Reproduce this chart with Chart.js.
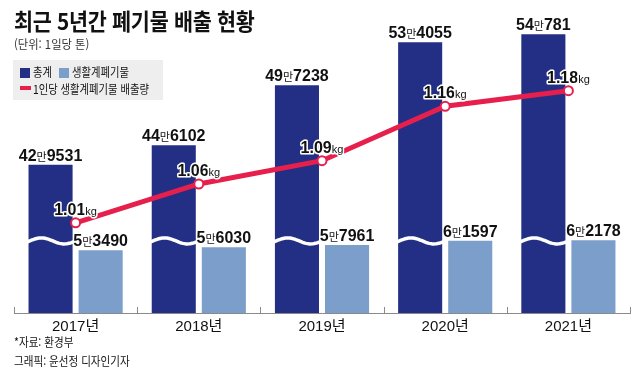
<!DOCTYPE html>
<html lang="ko">
<head>
<meta charset="utf-8">
<script src="https://cdn.jsdelivr.net/npm/chart.js@4.4.1/dist/chart.umd.min.js"></script>
<style>
  body { margin: 0; background: #fff; width: 640px; height: 376px; overflow: hidden; position: relative; }
  canvas { position: absolute; left: 0; top: 0; }
  .txt { position: absolute; white-space: nowrap; font-family: "Noto Sans CJK KR", "Noto Sans", sans-serif; transform-origin: left top; color: #111; }
  #title { left: 14px; top: 3px; font-size: 23px; font-weight: 700; transform: scaleX(0.9); letter-spacing: -0.3px; }
  #unit { left: 14px; top: 35px; font-size: 12px; color: #333; transform: scaleX(0.94); }
  #legend { position: absolute; left: 13px; top: 60px; width: 150px; height: 40px; background: #eeeeee; }
  .lg { position: absolute; font-family: "Noto Sans CJK KR", sans-serif; font-size: 12px; color: #111; white-space: nowrap; transform-origin: left top; transform: scaleX(0.86); }
  .sw { position: absolute; }
  #src { left: 14px; top: 333px; font-size: 12px; transform: scaleX(0.88); }
  #credit { left: 14px; top: 352px; font-size: 12px; transform: scaleX(0.88); }
</style>
</head>
<body>
<canvas id="myChart" width="640" height="376"></canvas>
<div class="txt" id="title">최근 5년간 폐기물 배출 현황</div>
<div class="txt" id="unit">(단위: 1일당 톤)</div>
<div id="legend">
  <div class="sw" style="left:7px;top:8px;width:10px;height:10px;background:#232f85"></div>
  <div class="lg" style="left:20px;top:3px">총계</div>
  <div class="sw" style="left:46px;top:8px;width:10px;height:10px;background:#7c9ecb"></div>
  <div class="lg" style="left:59px;top:3px">생활계폐기물</div>
  <div class="sw" style="left:7px;top:26px;width:11px;height:4px;background:#e61f4d"></div>
  <div class="lg" style="left:20px;top:20px">1인당 생활계폐기물 배출량</div>
</div>
<div class="txt" id="src">*자료: 환경부</div>
<div class="txt" id="credit">그래픽: 윤선정 디자인기자</div>
<script>
// 최근 5년간 폐기물 배출 현황 (1일당 톤, 1인당 kg)
const years = ['2017년', '2018년', '2019년', '2020년', '2021년'];
const totalWaste = [429531, 446102, 497238, 534055, 540781];
const householdWaste = [53490, 56030, 57961, 61597, 62178];
const perCapitaKg = [1.01, 1.06, 1.09, 1.16, 1.18];

const NAVY = '#232f85';
const LIGHT = '#7c9ecb';
const RED = '#e61f4d';

// 축 생략 구간 (물결 표시)
const BREAK_AT = 61500;
const GAP = 303000;

const NUM_FONT = '"Liberation Sans Narrow", "Liberation Sans", "Noto Sans CJK KR", sans-serif';

class BrokenLinearScale extends Chart.LinearScale {
    static id = 'brokenLinear';
    static defaults = Chart.LinearScale.defaults;
    getPixelForValue(value) {
        if (value > BREAK_AT + GAP) value = value - GAP;
        return super.getPixelForValue(value);
    }
}
Chart.register(BrokenLinearScale);

// 12만3456 -> 숫자 + 작은 '만' + 숫자
function drawManLabel(ctx, x, y, value) {
    const a = String(Math.floor(value / 10000));
    const b = String(value % 10000);
    const big = 'bold 16px ' + NUM_FONT;
    const small = '11px "Noto Sans CJK KR", sans-serif';
    ctx.font = big;
    const wa = ctx.measureText(a).width, wb = ctx.measureText(b).width;
    ctx.font = small;
    const wm = ctx.measureText('만').width;
    let cx = x - (wa + wm + wb) / 2;
    ctx.fillStyle = '#111';
    ctx.font = big; ctx.fillText(a, cx, y); cx += wa;
    ctx.font = small; ctx.fillText('만', cx, y); cx += wm;
    ctx.font = big; ctx.fillText(b, cx, y);
}

function drawKgLabel(ctx, x, y, value) {
    const a = value.toFixed(2);
    const big = 'bold 16px ' + NUM_FONT;
    const small = '11px ' + NUM_FONT;
    ctx.font = big;
    const wa = ctx.measureText(a).width;
    ctx.font = small;
    const wk = ctx.measureText('kg').width;
    let cx = x - (wa + wk) / 2;
    ctx.lineJoin = 'round';
    ctx.strokeStyle = '#fff';
    ctx.lineWidth = 3;
    ctx.fillStyle = '#111';
    ctx.font = big; ctx.strokeText(a, cx, y); ctx.fillText(a, cx, y); cx += wa;
    ctx.font = small; ctx.strokeText('kg', cx, y); ctx.fillText('kg', cx, y);
}

const extras = {
    id: 'extras',
    afterDatasetsDraw(chart) {
        const ctx = chart.ctx;
        const yTon = chart.scales.yTon;
        const xs = chart.scales.x;
        const area = chart.chartArea;
        ctx.save();

        // 물결 (생략 표시)
        const waveY = yTon.getPixelForValue(BREAK_AT);
        chart.getDatasetMeta(1).data.forEach(bar => {
            const left = bar.x - bar.width / 2, w = bar.width;
            ctx.beginPath();
            for (let i = 0; i <= 40; i++) {
                const t = i / 40;
                const px = left - 1 + t * (w + 2);
                const py = waveY - 3 * Math.sin(t * Math.PI * 2 - 0.3);
                if (i === 0) ctx.moveTo(px, py); else ctx.lineTo(px, py);
            }
            ctx.strokeStyle = '#fff';
            ctx.lineWidth = 3.5;
            ctx.stroke();
        });

        // x축 눈금 (위쪽으로)
        const step = xs.getPixelForValue(1) - xs.getPixelForValue(0);
        ctx.strokeStyle = '#8a8a8a';
        ctx.lineWidth = 1;
        for (let i = 0; i <= years.length; i++) {
            const tx = Math.round(xs.getPixelForValue(0) - step / 2 + i * step) + 0.5;
            ctx.beginPath();
            ctx.moveTo(tx, area.bottom);
            ctx.lineTo(tx, area.bottom - 6);
            ctx.stroke();
        }

        // 막대 라벨
        ctx.textBaseline = 'alphabetic';
        [1, 2].forEach(di => {
            const vals = di === 1 ? totalWaste : householdWaste;
            chart.getDatasetMeta(di).data.forEach((bar, i) => {
                drawManLabel(ctx, bar.x, bar.y - 4, vals[i]);
            });
        });

        // 꺾은선 라벨
        chart.getDatasetMeta(0).data.forEach((pt, i) => {
            drawKgLabel(ctx, pt.x, pt.y - 8, perCapitaKg[i]);
        });
        ctx.restore();
    }
};

let ctx = document.getElementById('myChart').getContext('2d');
let chart = new Chart(ctx, {
    type: 'bar',
    data: {
        labels: years,
        datasets: [{
            type: 'line',
            label: '1인당 생활계폐기물 배출량',
            data: perCapitaKg,
            yAxisID: 'yKg',
            borderColor: RED,
            borderWidth: 5,
            pointRadius: 4.5,
            pointBackgroundColor: '#fff',
            pointBorderColor: RED,
            pointBorderWidth: 2,
            tension: 0,
            order: 0
        }, {
            label: '총계',
            data: totalWaste,
            yAxisID: 'yTon',
            backgroundColor: NAVY,
            barPercentage: 0.88,
            categoryPercentage: 0.813,
            order: 1
        }, {
            label: '생활계폐기물',
            data: householdWaste,
            yAxisID: 'yTon',
            backgroundColor: LIGHT,
            barPercentage: 0.88,
            categoryPercentage: 0.813,
            order: 1
        }]
    },
    options: {
        responsive: false,
        animation: false,
        layout: { padding: { left: 14, right: 10, top: 20, bottom: 35 } },
        plugins: { legend: { display: false }, tooltip: { enabled: false } },
        scales: {
            x: {
                grid: { display: false, drawTicks: false },
                border: { display: true, color: '#8a8a8a', width: 1 },
                ticks: { color: '#111', padding: 5, font: { size: 15, family: NUM_FONT } }
            },
            yTon: { type: 'brokenLinear', display: false, min: 0, max: 250000 },
            yKg: { type: 'linear', display: false, min: 0.894, max: 1.271 }
        }
    },
    plugins: [extras]
});
</script>
</body>
</html>
